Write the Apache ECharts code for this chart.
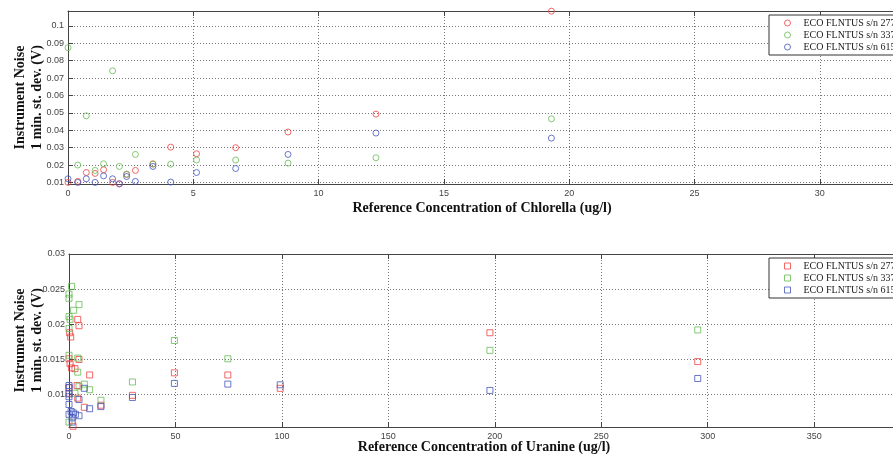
<!DOCTYPE html>
<html>
<head>
<meta charset="utf-8">
<script src="https://cdn.jsdelivr.net/npm/echarts@6/dist/echarts.min.js"></script>
<style>
  html, body { margin: 0; padding: 0; background: #fff; overflow: hidden; }
  #chart { width: 920px; height: 455px; }
</style>
</head>
<body>
<div id="chart"></div>
<script>
  const seriesNames = ['ECO FLNTUS s/n 2776', 'ECO FLNTUS s/n 3372', 'ECO FLNTUS s/n 615'];
  const seriesColors = ['#ee4444', '#66bb55', '#4455bb'];

  // Chlorella (ug/l) -> noise (V), one value per concentration for each sensor
  const chlorellaConc = [0, 0.39, 0.73, 1.08, 1.42, 1.78, 2.05, 2.34, 2.69, 3.39, 4.1, 5.13, 6.69, 8.78, 12.29, 19.29];
  const chlorellaRed = [0.0100, 0.0106, 0.0157, 0.0152, 0.0173, 0.0100, 0.0091, 0.0146, 0.0169, 0.0207, 0.0303, 0.0265, 0.0300, 0.0390, 0.0493, 0.1085];
  const chlorellaGreen = [0.0875, 0.0200, 0.0483, 0.0169, 0.0207, 0.0742, 0.0192, 0.0148, 0.0261, 0.0205, 0.0205, 0.0229, 0.0229, 0.0211, 0.0242, 0.0466];
  const chlorellaBlue = [0.0121, 0.0100, 0.0121, 0.0100, 0.0138, 0.0121, 0.0093, 0.0134, 0.0106, 0.0192, 0.0102, 0.0157, 0.0180, 0.0261, 0.0384, 0.0355];

  // Uranine (ug/l) -> noise (V), [conc, noise]
  const uranineRed = [[0.3, 0.0188], [0.8, 0.0182], [4.1, 0.0207], [4.7, 0.0198], [0, 0.0151], [0.5, 0.0144],
    [1.2, 0.0138], [2.8, 0.0137], [4.7, 0.0150], [9.7, 0.0128], [0, 0.0110], [0, 0.0102], [3.8, 0.0113],
    [4.1, 0.0095], [15, 0.0085], [7.2, 0.0082], [1.9, 0.0055], [29.8, 0.0099], [49.5, 0.0131],
    [74.6, 0.0128], [99.2, 0.0109], [197.7, 0.0188], [295.3, 0.0147]];
  const uranineGreen = [[1.2, 0.0254], [0, 0.0243], [0, 0.0237], [4.7, 0.0228], [2.2, 0.0220], [0, 0.0211],
    [0.5, 0.0207], [0, 0.0194], [0, 0.0156], [4.1, 0.0152], [4.1, 0.0132], [4.7, 0.0112], [7.2, 0.0115],
    [9.7, 0.0107], [2.8, 0.0102], [15, 0.0092], [0, 0.0061], [29.8, 0.0118], [49.5, 0.0177],
    [74.6, 0.0151], [197.7, 0.0163], [295.3, 0.0192]];
  const uranineBlue = [[0, 0.0113], [0, 0.0110], [7.2, 0.0109], [0, 0.0101], [0, 0.0097], [4.7, 0.0093],
    [15, 0.0083], [9.7, 0.0080], [0, 0.0086], [1, 0.0076], [2, 0.0074], [3, 0.0072], [4.7, 0.0070],
    [1.5, 0.0067], [0, 0.0072], [1.5, 0.0061], [29.8, 0.0096], [49.5, 0.0116], [74.6, 0.0115],
    [99.2, 0.0114], [197.7, 0.0106], [295.3, 0.0123]];

  const tickFont = "'Liberation Sans Narrow', 'Liberation Sans', sans-serif";
  const serif = "'Liberation Serif', 'DejaVu Serif', serif";

  const gridLine = { show: true, lineStyle: { color: '#777', width: 1, type: [1, 2] } };
  const axisLine = { show: true, lineStyle: { color: '#444', width: 1 } };
  const axisTick = { show: true, inside: true, length: 5, lineStyle: { color: '#444' } };
  const tickLabel = { color: '#444', fontSize: 9, fontFamily: tickFont };

  const xPair = (grid, max, interval) => [
    { type: 'value', gridIndex: grid, position: 'bottom', min: 0, max: max, interval: interval,
      axisLine: axisLine, axisTick: axisTick, splitLine: gridLine,
      axisLabel: Object.assign({ margin: 5, showMinLabel: true, showMaxLabel: false }, tickLabel) },
    { type: 'value', gridIndex: grid, position: 'top', min: 0, max: max, interval: interval,
      axisLine: axisLine, axisTick: axisTick, splitLine: { show: false }, axisLabel: { show: false } }
  ];

  const yAxis = (grid, min, max, split, showMax) => ({
    type: 'value', gridIndex: grid, min: min, max: max, splitNumber: split,
    axisLine: axisLine, axisTick: axisTick, splitLine: gridLine,
    axisLabel: Object.assign({ margin: 4, showMinLabel: false, showMaxLabel: showMax }, tickLabel)
  });

  const scatter = (name, color, symbol, xIdx, yIdx, data) => ({
    name: name, type: 'scatter', xAxisIndex: xIdx, yAxisIndex: yIdx,
    symbol: symbol, symbolSize: 6, data: data,
    itemStyle: { color: 'rgba(0,0,0,0)', borderColor: color, borderWidth: 1 },
    emphasis: { disabled: true }
  });

  const legend = (top, icon) => ({
    orient: 'vertical', left: 769, top: top,
    padding: [2, 40, 2, 15], itemGap: 0, itemWidth: 6, itemHeight: 6,
    backgroundColor: '#fff', borderColor: '#333', borderWidth: 1,
    selectedMode: false,
    textStyle: { fontFamily: serif, fontSize: 10, color: '#222', lineHeight: 12, padding: [0, 0, 0, 8] },
    data: seriesNames.map((n, i) => ({
      name: n, icon: icon,
      itemStyle: { color: 'rgba(0,0,0,0)', borderColor: seriesColors[i], borderWidth: 1 }
    }))
  });

  const yTitle = (cy) => ({
    type: 'text', x: 29, y: cy, rotation: Math.PI / 2,
    style: { text: 'Instrument Noise\n1 min. st. dev. (V)', textAlign: 'center', textVerticalAlign: 'middle',
      font: 'bold 14px ' + serif, lineHeight: 17, fill: '#111' }
  });
  const xTitle = (cx, cy, text) => ({
    type: 'text', x: cx, y: cy,
    style: { text: text, textAlign: 'center', textVerticalAlign: 'middle', font: 'bold 14px ' + serif, fill: '#111' }
  });

  const chart = echarts.init(document.getElementById('chart'), null, { renderer: 'canvas' });
  chart.setOption({
    animation: false,
    backgroundColor: '#fff',
    grid: [
      { left: 68, top: 11, width: 842, height: 173 },
      { left: 69, top: 254, width: 841, height: 173 }
    ],
    xAxis: [].concat(xPair(0, 33.6, 5), xPair(1, 395, 50)),
    yAxis: [
      yAxis(0, 0.0091, 0.1086, 10, false),
      yAxis(1, 0.0054, 0.03, 5, true)
    ],
    legend: [legend(15, 'circle'), legend(258, 'rect')],
    series: [
      scatter(seriesNames[0], seriesColors[0], 'circle', 0, 0, chlorellaConc.map((c, i) => [c, chlorellaRed[i]])),
      scatter(seriesNames[1], seriesColors[1], 'circle', 0, 0, chlorellaConc.map((c, i) => [c, chlorellaGreen[i]])),
      scatter(seriesNames[2], seriesColors[2], 'circle', 0, 0, chlorellaConc.map((c, i) => [c, chlorellaBlue[i]])),
      scatter(seriesNames[0], seriesColors[0], 'rect', 2, 1, uranineRed),
      scatter(seriesNames[1], seriesColors[1], 'rect', 2, 1, uranineGreen),
      scatter(seriesNames[2], seriesColors[2], 'rect', 2, 1, uranineBlue)
    ],
    graphic: [
      yTitle(97.5),
      yTitle(340.5),
      xTitle(482, 208, 'Reference Concentration of Chlorella (ug/l)'),
      xTitle(484, 447, 'Reference Concentration of Uranine (ug/l)')
    ]
  });
</script>
</body>
</html>
